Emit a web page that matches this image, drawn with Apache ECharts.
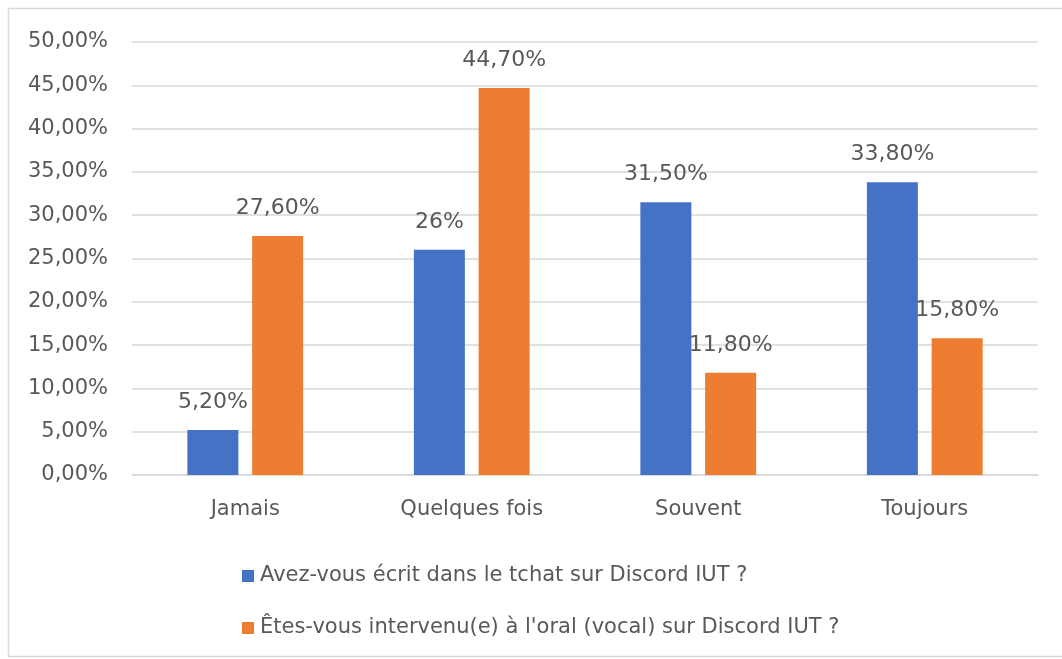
<!DOCTYPE html>
<html>
<head>
<meta charset="utf-8">
<script src="https://cdn.jsdelivr.net/npm/echarts@6/dist/echarts.min.js"></script>
<style>
  html, body { margin: 0; padding: 0; background: #fff; }
  #bar { width: 1062px; height: 659px; }
</style>
</head>
<body>
<div id="bar"></div>
<script>
// catégories et séries
var categories = ['Jamais', 'Quelques fois', 'Souvent', 'Toujours'];
var ecritTchat = [5.2, 26, 31.5, 33.8];
var oralVocal = [27.6, 44.7, 11.8, 15.8];
var seriesNames = [
  'Avez-vous écrit dans le tchat sur Discord IUT ?',
  "Êtes-vous intervenu(e) à l'oral (vocal) sur Discord IUT ?"
];

var txt = '#595959';
var police = '"DejaVu Sans", Verdana, sans-serif';

function pct(v, toujoursDeci) {
  if (!toujoursDeci && Math.round(v) === v) return v + '%';
  return v.toFixed(2).replace('.', ',') + '%';
}

var myChart = echarts.init(document.getElementById('bar'));

var option = {
  animation: false,
  textStyle: { fontFamily: police },
  graphic: [{
    type: 'rect',
    z: -10,
    shape: { x: 8.5, y: 8.5, width: 1100, height: 648 },
    style: { fill: 'none', stroke: '#d9d9d9', lineWidth: 1.5 }
  }],
  legend: {
    orient: 'vertical',
    left: 237,
    top: 560,
    itemGap: 30,
    itemWidth: 12,
    itemHeight: 12,
    icon: 'rect',
    textStyle: { color: txt, fontSize: 21, lineHeight: 22, fontFamily: police, padding: [0, 0, 0, 1] },
    data: seriesNames
  },
  grid: {
    left: 132,
    right: 24,
    top: 42,
    bottom: 184,
    containLabel: false,
    outerBoundsMode: 'none'
  },
  xAxis: {
    type: 'category',
    data: categories,
    axisLine: { lineStyle: { color: '#d9d9d9', width: 1.5 } },
    axisTick: { show: false },
    axisLabel: { color: txt, fontSize: 21, margin: 24 }
  },
  yAxis: {
    type: 'value',
    min: 0,
    max: 50,
    interval: 5,
    axisLine: { show: false },
    axisTick: { show: false },
    splitLine: { lineStyle: { color: '#d9d9d9', width: 1.5 } },
    axisLabel: {
      color: txt,
      fontSize: 21,
      margin: 24,
      formatter: function (v) { return pct(v, true); }
    }
  },
  series: [
    {
      name: seriesNames[0],
      type: 'bar',
      data: ecritTchat,
      barWidth: 51,
      barGap: '27%',
      itemStyle: { color: '#4472c4' },
      label: {
        show: true,
        position: 'top',
        distance: 17,
        color: txt,
        fontSize: 22,
        formatter: function (p) { return pct(p.value, false); }
      }
    },
    {
      name: seriesNames[1],
      type: 'bar',
      data: oralVocal,
      barWidth: 51,
      barGap: '27%',
      itemStyle: { color: '#ed7d31' },
      label: {
        show: true,
        position: 'top',
        distance: 17,
        color: txt,
        fontSize: 22,
        formatter: function (p) { return pct(p.value, false); }
      }
    }
  ]
};

myChart.setOption(option);
</script>
</body>
</html>
